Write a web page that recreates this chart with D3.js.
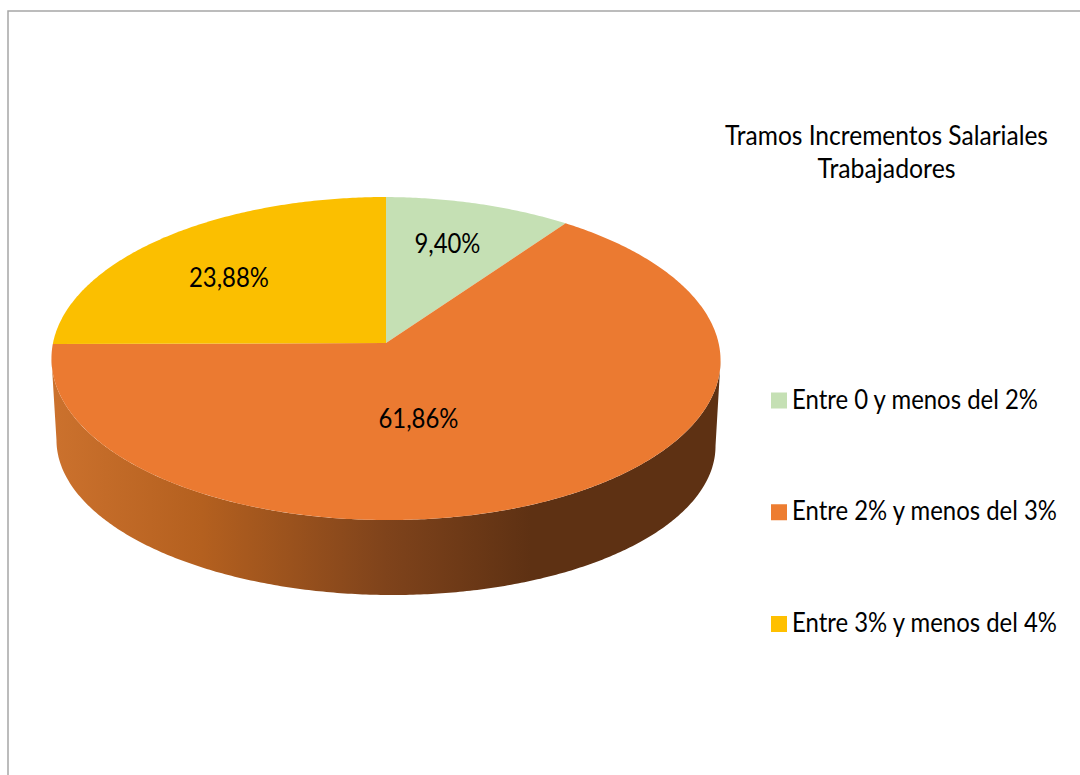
<!DOCTYPE html>
<html><head><meta charset="utf-8">
<script src="https://cdnjs.cloudflare.com/ajax/libs/d3/7.8.5/d3.min.js"></script>
<style>html,body{margin:0;padding:0;background:#fff}svg{display:block}text{font-family:Lato,"Open Sans",sans-serif;fill:#000}</style>
</head><body><div id="c"></div>
<script>
const titleLines = ["Tramos Incrementos Salariales", "Trabajadores"];
const categories = ["Entre 0 y menos del 2%", "Entre 2% y menos del 3%", "Entre 3% y menos del 4%"];
const values = [9.40, 61.86, 23.88];
const valueLabels = ["9,40%", "61,86%", "23,88%"];
const colors = ["#C5E0B4", "#EB7A31", "#FBBF00"];
const legendColors = ["#C5E0B4", "#ED7D31", "#FFC000"];
const labelNudges = [[-1, -6], [-73, -22], [-10, 5]];
const labelWidths = [66, 80, 80];

const W = 1080, H = 775;
const svg = d3.select("#c").append("svg").attr("width", W).attr("height", H);

// perspective view of a flat disc, with a slight downward lean to the right
const persp = 0.096;
function projector(cx, cy, A, B, leanL, leanR) {
  return (theta, r = 1) => {
    const a = Math.sin(theta) * r, b = Math.cos(theta) * r, d = 1 + persp * b;
    const dx = A * a / d;
    return [cx + dx, cy - B * b / d + dx * (dx > 0 ? leanR : leanL)];
  };
}
const topDisc = projector(386, 343, 333, 160, 0, 0.006);
const lowDisc = projector(386, 428.4, 328, 150.6, 0.009, 0.009);
const line = d3.line();
const arcPts = (f, t0, t1) => {
  const n = Math.max(2, Math.ceil(Math.abs(t1 - t0) / 0.01));
  return d3.range(n + 1).map(i => f(t0 + (t1 - t0) * i / n));
};

const slices = d3.pie().sort(null).value(d => d)(values);

// frame
svg.append("path")
  .attr("d", line([[8, H], [8, 11], [W, 11]]))
  .attr("fill", "none").attr("stroke", "#a6a6a6").attr("stroke-width", 1.5);

// side wall, between the two silhouette tangents
const grad = svg.append("defs").append("linearGradient").attr("id", "wall")
  .attr("gradientUnits", "userSpaceOnUse").attr("x1", 56).attr("x2", 716).attr("y1", 0).attr("y2", 0);
[[0, "#CB712D"], [0.22, "#B4601F"], [0.5, "#7F431B"], [0.72, "#5E3113"], [1, "#5E3113"]]
  .forEach(([o, c]) => grad.append("stop").attr("offset", o).attr("stop-color", c));
const orange = slices[1];
const tangent = Math.asin(persp);
const w0 = Math.max(orange.startAngle, Math.PI / 2 + tangent);
const w1 = Math.min(orange.endAngle, 3 * Math.PI / 2 - tangent);
svg.append("path")
  .attr("d", line(arcPts(topDisc, w0, w1).concat(arcPts(lowDisc, w1, w0))) + "Z")
  .attr("fill", "url(#wall)");

// top face
svg.append("g").selectAll("path").data(slices).join("path")
  .attr("d", d => line([topDisc(0, 0)].concat(arcPts(topDisc, d.startAngle, d.endAngle))) + "Z")
  .attr("fill", (d, i) => colors[i]);

// value labels
svg.append("g").selectAll("text").data(slices).join("text")
  .attr("x", (d, i) => topDisc((d.startAngle + d.endAngle) / 2, 0.65)[0] + labelNudges[i][0])
  .attr("y", (d, i) => topDisc((d.startAngle + d.endAngle) / 2, 0.65)[1] + labelNudges[i][1] + 9)
  .attr("text-anchor", "middle").attr("font-size", 26)
  .attr("textLength", (d, i) => labelWidths[i]).attr("lengthAdjust", "spacingAndGlyphs")
  .text((d, i) => valueLabels[i]);

// title
const titleWidths = [323, 138];
svg.append("g").selectAll("text").data(titleLines).join("text")
  .attr("x", 886.5).attr("y", (d, i) => 145 + i * 33)
  .attr("text-anchor", "middle").attr("font-size", 26)
  .attr("textLength", (d, i) => titleWidths[i]).attr("lengthAdjust", "spacingAndGlyphs")
  .text(d => d);

// legend
const legendY = d3.scalePoint().domain(categories).range([400, 623.5]);
const legendWidths = [246, 265, 265];
const leg = svg.append("g").selectAll("g").data(categories).join("g")
  .attr("transform", d => `translate(771,${legendY(d)})`);
leg.append("rect").attr("x", 0).attr("y", -7.5).attr("width", 16).attr("height", 16)
  .attr("fill", (d, i) => legendColors[i]);
leg.append("text").attr("x", 21).attr("y", 8.5).attr("font-size", 26)
  .attr("textLength", (d, i) => legendWidths[i]).attr("lengthAdjust", "spacingAndGlyphs")
  .text(d => d);
</script></body></html>
